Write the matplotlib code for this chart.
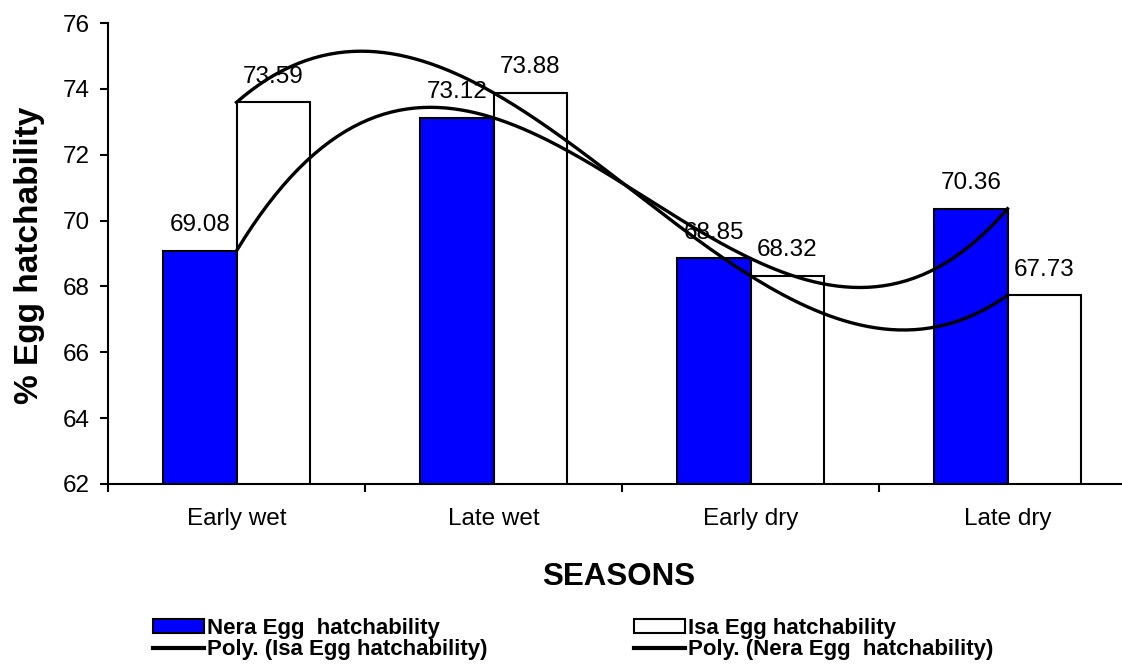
import numpy as np
import matplotlib
matplotlib.use('Agg')
import matplotlib.pyplot as plt
from matplotlib.patches import Patch
from matplotlib.lines import Line2D

plt.rcParams['font.family'] = ['Liberation Sans', 'DejaVu Sans']

# data
seasons = ['Early wet', 'Late wet', 'Early dry', 'Late dry']
nera = [69.08, 73.12, 68.85, 70.36]
isa = [73.59, 73.88, 68.32, 67.73]
yticks = [62, 64, 66, 68, 70, 72, 74, 76]

x = np.arange(1, len(seasons) + 1)
w = 1 / 3.5   # two bars plus a 150% gap

fig = plt.figure(figsize=(11.22, 6.69), dpi=100)
ax = fig.add_axes([108/1122, 185/669, 1028/1122, 461/669])

ax.bar(x - w/2, nera, w, color='#0000ff', edgecolor='black', lw=1.5, zorder=2)
ax.bar(x + w/2, isa, w, color='white', edgecolor='black', lw=1.5, zorder=2)

# 3rd order polynomial trendlines (Excel style)
xs = np.linspace(1, 4, 200)
p_isa = np.poly1d(np.polyfit(x, isa, 3))
p_nera = np.poly1d(np.polyfit(x, nera, 3))
ax.plot(xs, p_isa(xs), color='black', lw=2.4, zorder=4)
ax.plot(xs, p_nera(xs), color='black', lw=2.4, zorder=4)

for xi, v in zip(x - w/2, nera):
    ax.annotate('%.2f' % v, (xi, v), xytext=(0, 14), textcoords='offset points',
                ha='center', va='baseline', fontsize=17.5, zorder=3)
for xi, v in zip(x + w/2, isa):
    ax.annotate('%.2f' % v, (xi, v), xytext=(0, 14), textcoords='offset points',
                ha='center', va='baseline', fontsize=17.5, zorder=3)

ax.set_xlim(0.5, 4.5)
ax.set_ylim(62, 76)
ax.set_yticks(yticks)
ax.tick_params(axis='y', labelsize=17.5, length=6, width=1.5, pad=7, direction='out')
ax.set_xticks(x)
ax.set_xticklabels(seasons)
ax.tick_params(axis='x', which='major', labelsize=17.5, length=0, pad=17)
ax.set_xticks(np.arange(0.5, 5, 1), minor=True)
ax.tick_params(axis='x', which='minor', length=6, width=1.5, direction='out')
for s in ['top', 'right']:
    ax.spines[s].set_visible(False)
for s in ['left', 'bottom']:
    ax.spines[s].set_linewidth(1.5)

fig.text(30/1122, 1 - 255/669, '% Egg hatchability', rotation=90,
         ha='center', va='center', fontsize=24, fontweight='bold')
fig.text(619/1122, 1 - 577/669, 'SEASONS', ha='center', va='center',
         fontsize=22.5, fontweight='bold')

handles = [Patch(facecolor='#0000ff', edgecolor='black', lw=1.5),
           Line2D([], [], color='black', lw=3),
           Patch(facecolor='white', edgecolor='black', lw=1.5),
           Line2D([], [], color='black', lw=3)]
labels = ['Nera Egg  hatchability', 'Poly. (Isa Egg hatchability)',
          'Isa Egg hatchability', 'Poly. (Nera Egg  hatchability)']
fig.legend(handles, labels, ncol=2, loc='upper left',
           bbox_to_anchor=(153/1122, 1 - 618/669), frameon=False,
           prop={'weight': 'bold', 'size': 16}, handlelength=2.3,
           handleheight=0.6, handletextpad=0.12, columnspacing=6.6,
           labelspacing=0.0, borderpad=0, borderaxespad=0)

fig.savefig('out.png', dpi=100)
